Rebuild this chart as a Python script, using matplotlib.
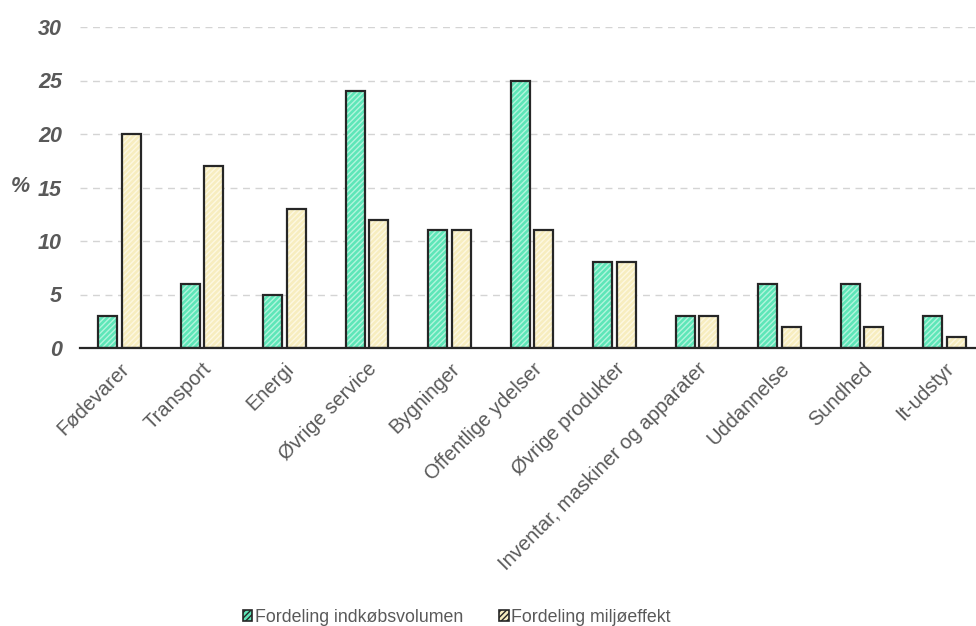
import matplotlib.pyplot as plt
import numpy as np
from matplotlib.patches import Patch

plt.rcParams['font.family'] = ['Liberation Sans', 'DejaVu Sans']
plt.rcParams['hatch.linewidth'] = 1.0

# data
categories = ["Fødevarer", "Transport", "Energi", "Øvrige service", "Bygninger",
              "Offentlige ydelser", "Øvrige produkter",
              "Inventar, maskiner og apparater", "Uddannelse", "Sundhed", "It-udstyr"]
volumen = [3, 6, 5, 24, 11, 25, 8, 3, 6, 6, 3]
miljo = [20, 17, 13, 12, 11, 11, 8, 3, 2, 2, 1]
series_names = ["Fordeling indkøbsvolumen", "Fordeling miljøeffekt"]

green = '#5ee6b8'
green_hatch = '#b2f5dd'
yellow = '#f7edbf'
yellow_hatch = '#fdf8e2'
edge = '#262626'
gray = '#595959'

x = np.arange(len(categories))
w = 0.23
off = 0.142

fig = plt.figure(figsize=(9.76, 6.26), dpi=100)
ax = fig.add_axes([80 / 976, 1 - 348 / 626, 896 / 976, 321 / 626])

# fill + hatch (light stripes), then outline on top
ax.bar(x - off, volumen, w, color=green, hatch='//////', edgecolor=green_hatch,
       linewidth=0, zorder=2)
ax.bar(x + off, miljo, w, color=yellow, hatch='//////', edgecolor=yellow_hatch,
       linewidth=0, zorder=2)
ax.bar(x - off, volumen, w, fill=False, edgecolor=edge, linewidth=1.6, zorder=3)
ax.bar(x + off, miljo, w, fill=False, edgecolor=edge, linewidth=1.6, zorder=3)

ax.set_xlim(-0.48, 10.38)
ax.set_ylim(0, 30)
ax.set_yticks(np.arange(0, 31, 5))
ax.set_yticklabels([str(v) for v in range(0, 31, 5)], fontsize=15.5,
                   fontweight='bold', fontstyle='italic', color=gray)
ax.set_xticks(x)
ax.set_xticklabels(categories, rotation=45, ha='right', rotation_mode='anchor',
                   fontsize=14.5, color=gray)
ax.tick_params(axis='both', length=0)
ax.tick_params(axis='y', pad=13)
ax.tick_params(axis='x', pad=8)

for spine in ['top', 'right', 'left']:
    ax.spines[spine].set_visible(False)
ax.spines['bottom'].set_color(edge)
ax.spines['bottom'].set_linewidth(1.6)
ax.spines['bottom'].set_zorder(4)

ax.yaxis.grid(True, linestyle=(0, (5, 4)), color='#d4d4d4', linewidth=1)
ax.set_axisbelow(True)
ax.get_ygridlines()[0].set_visible(False)

fig.text(11 / 976, 1 - 187 / 626, '%', fontsize=15.5, fontweight='bold',
         fontstyle='italic', color=gray, va='center', ha='left')

# legend
handles = [
    Patch(facecolor=green, edgecolor=edge, hatch='//////', linewidth=1.2),
    Patch(facecolor=yellow, edgecolor=edge, hatch='//////', linewidth=1.2),
]
leg = fig.legend(handles, series_names, loc='center', bbox_to_anchor=(0.468, 1 - 617 / 626),
                 ncol=2, frameon=False, fontsize=12.8, handlelength=0.55,
                 handleheight=0.55, handletextpad=0.15, columnspacing=2.0)
for t in leg.get_texts():
    t.set_color(gray)

fig.savefig('out.png', dpi=100)
